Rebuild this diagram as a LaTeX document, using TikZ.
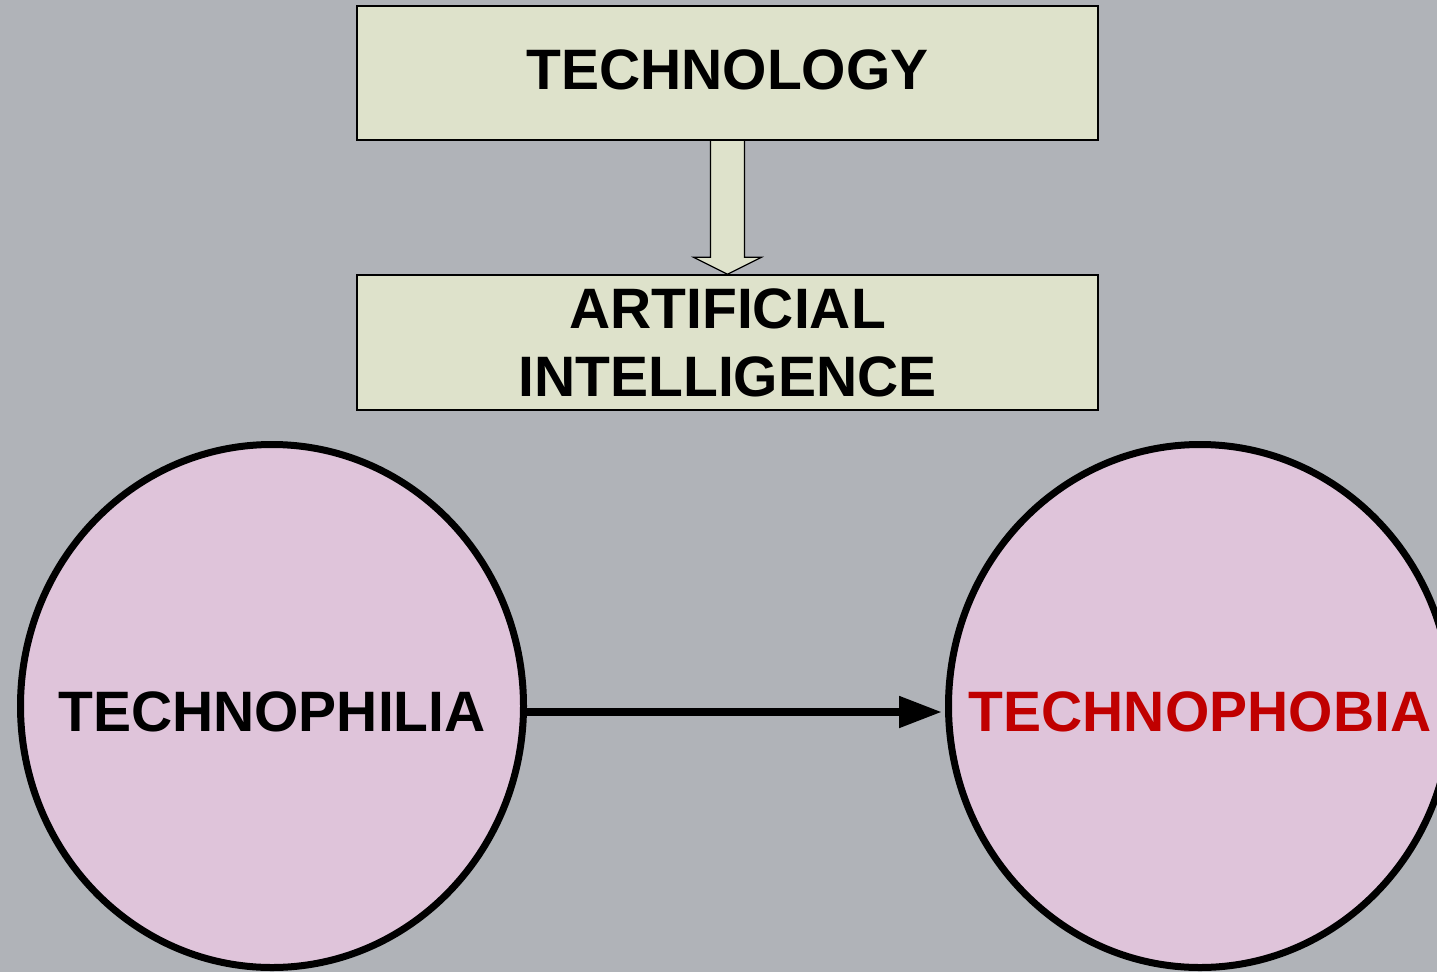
\documentclass[tikz,border=0pt]{standalone}
\usepackage{fontspec}
\setmainfont{Liberation Sans}
\usetikzlibrary{arrows.meta,shapes.geometric,calc}
\definecolor{bg}{HTML}{B0B3B8}
\definecolor{boxfill}{HTML}{DEE2CB}
\definecolor{circfill}{HTML}{DFC4DA}
\definecolor{phobred}{HTML}{C00000}
\begin{document}
\begin{tikzpicture}[x=1pt,y=-1pt,
  bigtext/.style={font=\fontsize{57}{68}\selectfont\bfseries, inner sep=0pt},
  rectbox/.style={draw=black,line width=1.5pt,fill=boxfill,minimum width=741pt,inner sep=0pt,align=center,font=\fontsize{57}{68}\selectfont\bfseries},
  bubble/.style={ellipse,draw=black,line width=7pt,fill=circfill,minimum width=503pt,minimum height=523pt,inner sep=0pt},
  blockarrow/.style={draw=black,line width=1.2pt,fill=boxfill,line join=miter},
  linkarrow/.style={line width=8pt,-{Triangle[length=43pt,width=30pt]},shorten >=3pt}
]
\fill[bg] (0,0) rectangle (1437,972);
\useasboundingbox (0,0) rectangle (1437,972);
\clip (0,0) rectangle (1437,972);

% coordinates for the boxes' centres
\coordinate (techc) at (727.5,73);
\coordinate (aic) at (727.5,342.5);

% invisible helpers to get anchors before drawing the block arrow
\path (techc) node[rectbox,draw=none,fill=none,minimum height=134pt,text opacity=0] (techghost) {TECHNOLOGY};
\path (aic) node[rectbox,draw=none,fill=none,minimum height=135pt,text opacity=0] (aighost) {ARTIFICIAL\\INTELLIGENCE};

% block arrow between the boxes
\draw[blockarrow] ($(techghost.south)+(-17,0)$) -- ($(aighost.north)+(-17,-17)$) -- ($(aighost.north)+(-34,-17)$) -- (aighost.north) -- ($(aighost.north)+(34,-17)$) -- ($(aighost.north)+(17,-17)$) -- ($(techghost.south)+(17,0)$);

% boxes
\node[rectbox,minimum height=134pt,text depth=6pt] (tech) at (techc) {TECHNOLOGY};
\node[rectbox,minimum height=135pt] (ai) at (aic) {ARTIFICIAL\\INTELLIGENCE};

% circles
\node[bubble] (ephil) at (272,706) {};
\node[bubble] (ephob) at (1200,706) {};
\node[bigtext] (tphil) at (272,712) {TECHNOPHILIA};
\node[bigtext,text=phobred] (tphob) at (1200,712) {TECHNOPHOBIA};

% connector
\draw[linkarrow] (ephil.east |- tphil) -- (ephob.west |- tphil);
\end{tikzpicture}
\end{document}
